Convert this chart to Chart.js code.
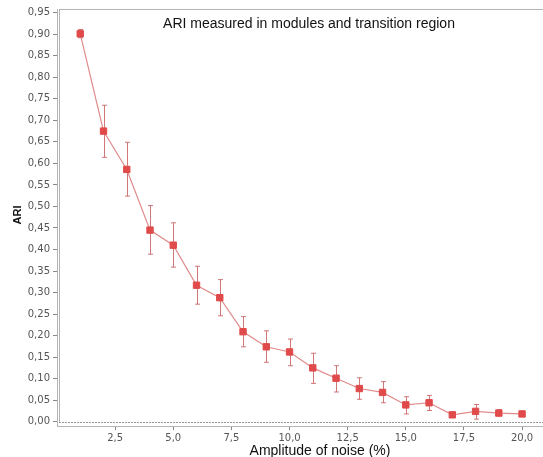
<!DOCTYPE html>
<html>
<head>
<meta charset="utf-8">
<script src="https://cdn.jsdelivr.net/npm/chart.js@4/dist/chart.umd.min.js"></script>
<style>
    html, body { margin: 0; padding: 0; background: #fff; overflow: hidden; }
    canvas { display: block; }
</style>
</head>
<body>
<canvas id="ariChart" width="543" height="457"></canvas>
<script>
// Noise amplitude (%) and measured ARI with error bar limits
const noise = [1, 2, 3, 4, 5, 6, 7, 8, 9, 10, 11, 12, 13, 14, 15, 16, 17, 18, 19, 20];
const ari = [0.901, 0.675, 0.586, 0.445, 0.410, 0.317, 0.288, 0.209, 0.174, 0.162, 0.125, 0.101, 0.077, 0.068, 0.039, 0.044, 0.016, 0.024, 0.020, 0.018];
const ariLow = [0.892, 0.614, 0.524, 0.389, 0.359, 0.273, 0.246, 0.174, 0.138, 0.130, 0.089, 0.069, 0.052, 0.044, 0.018, 0.026, 0.013, 0.006, 0.014, 0.013];
const ariHigh = [0.911, 0.735, 0.649, 0.502, 0.462, 0.361, 0.330, 0.244, 0.211, 0.192, 0.159, 0.130, 0.102, 0.093, 0.058, 0.061, 0.019, 0.040, 0.028, 0.024];

// Tick labels
const xTicks = [2.5, 5.0, 7.5, 10.0, 12.5, 15.0, 17.5, 20.0];
const yTicks = [0, 0.05, 0.10, 0.15, 0.20, 0.25, 0.30, 0.35, 0.40, 0.45, 0.50, 0.55, 0.60, 0.65, 0.70, 0.75, 0.80, 0.85, 0.90, 0.95];

const chartTitle = 'ARI measured in modules and transition region';
const xTitle = 'Amplitude of noise (%)';
const yTitle = 'ARI';

const comma = (v, d) => Number(v).toFixed(d).replace('.', ',');

// frame, zero line and error bars
const framePlugin = {
    id: 'frame',
    beforeDatasetsDraw(chart) {
        const { ctx, chartArea: a, scales } = chart;
        const y0 = Math.round(scales.y.getPixelForValue(0)) + 0.5;
        ctx.save();
        ctx.strokeStyle = '#b4b4b4';
        ctx.lineWidth = 1;
        ctx.beginPath();
        ctx.moveTo(a.left + 2, a.top + 0.5);
        ctx.lineTo(a.right, a.top + 0.5);
        ctx.moveTo(a.left + 2.5, a.top);
        ctx.lineTo(a.left + 2.5, y0);
        ctx.stroke();
        ctx.strokeStyle = '#999';
        ctx.setLineDash([2, 1]);
        ctx.beginPath();
        ctx.moveTo(a.left + 2, y0);
        ctx.lineTo(a.right, y0);
        ctx.stroke();
        ctx.setLineDash([]);

        // error bars
        ctx.strokeStyle = 'rgba(200, 95, 95, 0.85)';
        noise.forEach((n, i) => {
            const x = Math.round(scales.x.getPixelForValue(n)) + 0.5;
            const lo = scales.y.getPixelForValue(ariLow[i]);
            const hi = scales.y.getPixelForValue(ariHigh[i]);
            ctx.beginPath();
            ctx.moveTo(x, lo);
            ctx.lineTo(x, hi);
            ctx.moveTo(x - 2.5, lo);
            ctx.lineTo(x + 2.5, lo);
            ctx.moveTo(x - 2.5, hi);
            ctx.lineTo(x + 2.5, hi);
            ctx.stroke();
        });
        ctx.restore();
    },
    afterDraw(chart) {
        const { ctx } = chart;
        ctx.save();
        ctx.fillStyle = '#111';
        ctx.textAlign = 'center';
        ctx.textBaseline = 'alphabetic';
        ctx.font = '14px "Liberation Sans", Arial, sans-serif';
        ctx.fillText(chartTitle, 309, 27.5);
        ctx.fillText(xTitle, 320, 455);
        ctx.translate(21, 215);
        ctx.rotate(-Math.PI / 2);
        ctx.font = 'bold 11px "Liberation Sans", Arial, sans-serif';
        ctx.fillText(yTitle, 0, 0);
        ctx.restore();
    }
};

document.addEventListener('DOMContentLoaded', function () {
    const canvas = document.getElementById('ariChart');
    new Chart(canvas.getContext('2d'), {
        type: 'line',
        data: {
            datasets: [{
                label: 'ARI',
                data: noise.map((n, i) => ({ x: n, y: ari[i] })),
                borderColor: '#e08a8a',
                borderWidth: 1.2,
                backgroundColor: '#e04a4a',
                pointStyle: 'rect',
                pointRadius: 4.5,
                pointBorderWidth: 1,
                pointBorderColor: '#e04a4a',
                pointBackgroundColor: '#e04a4a',
                tension: 0,
                fill: false
            }]
        },
        options: {
            responsive: false,
            animation: false,
            devicePixelRatio: 1,
            layout: { autoPadding: false, padding: { top: 9, right: 0, left: 0, bottom: 0 } },
            plugins: { legend: { display: false }, tooltip: { enabled: false } },
            scales: {
                x: {
                    type: 'linear',
                    min: 0,
                    max: 20.9,
                    afterBuildTicks: s => { s.ticks = xTicks.map(v => ({ value: v })); },
                    afterFit: s => { s.height = 31; s.paddingLeft = 0; s.paddingRight = 0; },
                    grid: { drawOnChartArea: false, drawTicks: true, tickLength: 4, color: '#888' },
                    border: { display: true, color: '#b4b4b4', width: 1 },
                    ticks: {
                        padding: 2,
                        color: '#555',
                        font: { family: '"DejaVu Sans", sans-serif', size: 10 },
                        maxRotation: 0,
                        callback: v => comma(v, 1)
                    }
                },
                y: {
                    type: 'linear',
                    min: -0.01,
                    max: 0.9586,
                    afterBuildTicks: s => { s.ticks = yTicks.map(v => ({ value: v })); },
                    afterFit: s => { s.width = 57; s.paddingTop = 0; s.paddingBottom = 0; },
                    grid: { drawOnChartArea: false, drawTicks: true, tickLength: 4, color: '#888' },
                    border: { display: true, color: '#b4b4b4', width: 1 },
                    ticks: {
                        padding: 3,
                        color: '#555',
                        font: { family: '"DejaVu Sans", sans-serif', size: 10 },
                        callback: v => comma(v, 2)
                    }
                }
            }
        },
        plugins: [framePlugin]
    });
});
</script>
</body>
</html>
